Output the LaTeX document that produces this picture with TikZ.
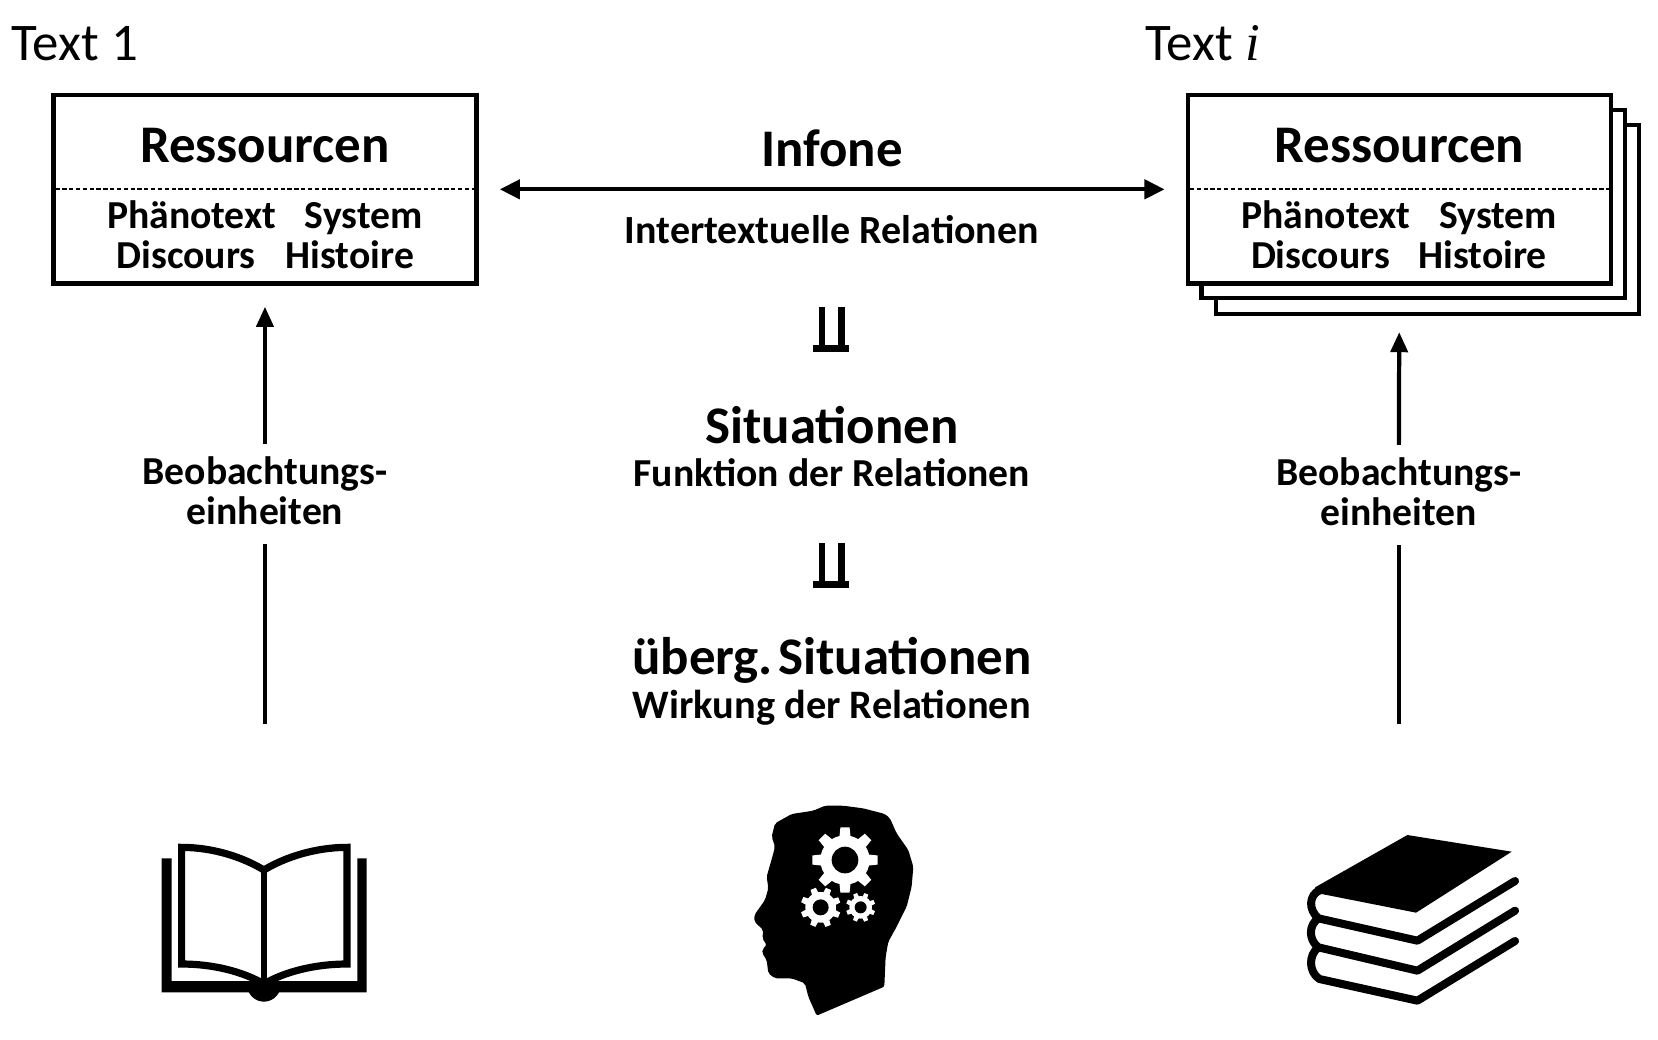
\documentclass[tikz,border=0pt]{standalone}
\usepackage{fontspec}
\setmainfont{Carlito}[Ligatures=Common]
\newfontfamily\serifit{Liberation Serif}
\usetikzlibrary{arrows.meta,calc}
\tikzset{
  box/.style={draw=black,line width=4pt,fill=white,outer sep=0pt,minimum width=400pt,minimum height=178pt,inner sep=0pt},
  conn/.style={line width=4pt,-{Triangle[length=19pt,width=16pt]}},
  plainconn/.style={line width=4pt},
  dbl/.style={line width=4pt,{Triangle[length=19pt,width=18pt]}-{Triangle[length=19pt,width=18pt]}},
  head/.style={font=\fontsize{50}{50}\selectfont,anchor=base west,inner sep=0pt},
  big/.style={font=\fontsize{50}{50}\selectfont\bfseries,anchor=base,inner sep=0pt},
  mid/.style={font=\fontsize{37.5}{37.5}\selectfont\bfseries,anchor=base,inner sep=0pt},
  inbox/.style={font=\fontsize{37.5}{37.5}\selectfont\bfseries,anchor=base west,inner sep=0pt},
  lab/.style={font=\fontsize{37.5}{38}\selectfont\bfseries,align=center,inner sep=0pt,text depth=0pt},
  divider/.style={line width=1.7pt,dash pattern=on 4pt off 2.45pt},
  icon/.style={x=0.3151pt,y=-0.3151pt},
}
\newcommand{\gearshape}[6]{% cx cy outer root hole rot
  \begin{scope}[shift={(#1,#2)},rotate=#6]
    \fill[white] (0,0) circle (#4);
    \foreach \a in {0,45,...,315}{
      \fill[white,rotate=\a] (#4-4,-#3*0.17) -- (#3,-#3*0.14) -- (#3,#3*0.14) -- (#4-4,#3*0.17) -- cycle;
    }
    \fill[black] (0,0) circle (#5);
  \end{scope}}
\newcommand{\doubletack}[2]{% bottom edge y, top edge y
  \fill (768.9,#1-6.4) rectangle (803,#1);
  \fill (774,#2) rectangle (780,#1-3);
  \fill (792.6,#2) rectangle (798.4,#1-3);}
\begin{document}
\begin{tikzpicture}[x=1pt,y=-1pt]
\useasboundingbox (0,0) rectangle (1567.5,982.3);
% titles
\node[head] (t1) at (11,57) {Text 1};
\node[head] (t2) at (1083,57) {Text {\serifit\itshape i}};
% left box
\node[box] (r1) at (250.5,179) {};
\draw[divider] ($(r1.west)+(2,0)$) -- ($(r1.east)+(-2,0)$);
\node[big] (res1) at (250.5,154) {Ressourcen};
\node[inbox] (p1) at (101,216) {Phänotext};
\node[inbox] (s1) at (288,216) {System};
\node[inbox] (d1) at (110,254) {Discours};
\node[inbox] (h1) at (270,254) {Histoire};
% right stack
\node[box] (r2c) at (1349.5,207.5) {};
\node[box] (r2b) at (1336,193) {};
\node[box] (r2) at (1323,179) {};
\draw[divider] ($(r2.west)+(2,0)$) -- ($(r2.east)+(-2,0)$);
\node[big] (res2) at (1323,154) {Ressourcen};
\node[inbox] (p2) at (1173.5,216) {Phänotext};
\node[inbox] (s2) at (1360.5,216) {System};
\node[inbox] (d2) at (1182.5,254) {Discours};
\node[inbox] (h2) at (1341,254) {Histoire};
% centre
\draw[dbl,shorten <=22pt,shorten >=22pt] (r1.east) -- (r2.west);
\node[big] (inf) at (786.5,157) {Infone};
\node[mid,font=\fontsize{37.8}{37.8}\selectfont\bfseries] (itr) at (786.5,230) {Intertextuelle Relationen};
\doubletack{332.6}{290.5}
\node[big] (sit) at (786.5,419) {Situationen};
\node[mid] (fkt) at (786.5,460) {Funktion der Relationen};
\doubletack{555.9}{513.7}
\node[big] (ueb) at (786.5,638) {überg.\hspace{-0.2em} Situationen};
\node[mid,font=\fontsize{38.2}{38.2}\selectfont\bfseries] (wrk) at (786.5,679) {Wirkung der Relationen};
% side labels and connectors
\node[lab] (b1) at (250.5,464) {Beobachtungs-\\einheiten};
\node[lab] (b2) at (1322.5,465) {Beobachtungs-\\einheiten};
\coordinate (c1) at (250.5,684);
\coordinate (c2) at (1322.5,684);
\draw[plainconn] (c1) -- ($(b1.south)+(0,18)$);
\draw[conn,shorten >=22pt] ($(b1.north)+(0,-12)$) -- (r1.south);
\draw[plainconn] (c2) -- ($(b2.south)+(0,18)$);
\draw[conn,shorten >=46pt] ($(b2.north)+(0,-12)$) -- (r2.south);
% open book
\begin{scope}[icon,shift={(94.5pt,-728pt)}]
  \fill (185,265) -- (215,265) -- (215,633) -- (772,633) -- (772,265) -- (800,265) -- (800,667) -- (185,667) -- cycle;
  \fill (440,640) arc[start angle=180,end angle=0,x radius=52,y radius=55] -- cycle;
  \draw[line width=6.8pt,miter limit=10] (492,300) .. controls (430,262) and (340,232) .. (245,232) -- (245,582) .. controls (340,582) and (430,605) .. (492,642);
  \draw[line width=6.8pt,miter limit=10] (492,300) .. controls (554,262) and (646,232) .. (741,232) -- (741,582) .. controls (646,582) and (554,605) .. (492,642);
  \draw[line width=6.4pt] (492,290) -- (492,640);
\end{scope}
% head
\begin{scope}[icon,shift={(680.7pt,-746.9pt)}]
  \fill[rounded corners=2pt] (290,677) -- (265,620) -- (255,580) -- (215,565) -- (165,565) -- (145,550) -- (140,510) -- (127,490) -- (127,478) -- (140,465) -- (127,445) -- (130,420) -- (103,395) -- (103,375) -- (135,330) -- (145,295) -- (140,260) -- (160,190) -- (165,170) -- (155,140) -- (165,100) -- (215,72) -- (280,62) -- (315,47) -- (370,47) -- (430,55) -- (495,72) -- (510,85) -- (530,130) -- (565,180) -- (580,230) -- (575,290) -- (560,350) -- (530,410) -- (505,455) -- (497,500) -- (493,590) -- cycle;
  \gearshape{375}{210}{98}{74}{40}{0}
  \gearshape{302}{352}{60}{46}{24}{22}
  \gearshape{422}{352}{44}{34}{18}{22}
\end{scope}
% stack of books
\begin{scope}[icon,shift={(1210.2pt,-765.8pt)}]
  \fill (382,75) -- (695,125) -- (408,308) -- (125,252) -- (105,232) -- cycle;
  \draw[line width=7.6pt,line cap=round,line join=round] (705,213) -- (412,392) -- (115,325) .. controls (85,300) and (85,255) .. (120,240);
  \draw[line width=7.6pt,line cap=round,line join=round] (705,302) -- (412,482) -- (115,412) .. controls (85,390) and (85,345) .. (115,325);
  \draw[line width=7.6pt,line cap=round,line join=round] (705,393) -- (412,572) -- (118,507) .. controls (85,485) and (85,435) .. (115,412);
\end{scope}
\end{tikzpicture}
\end{document}
